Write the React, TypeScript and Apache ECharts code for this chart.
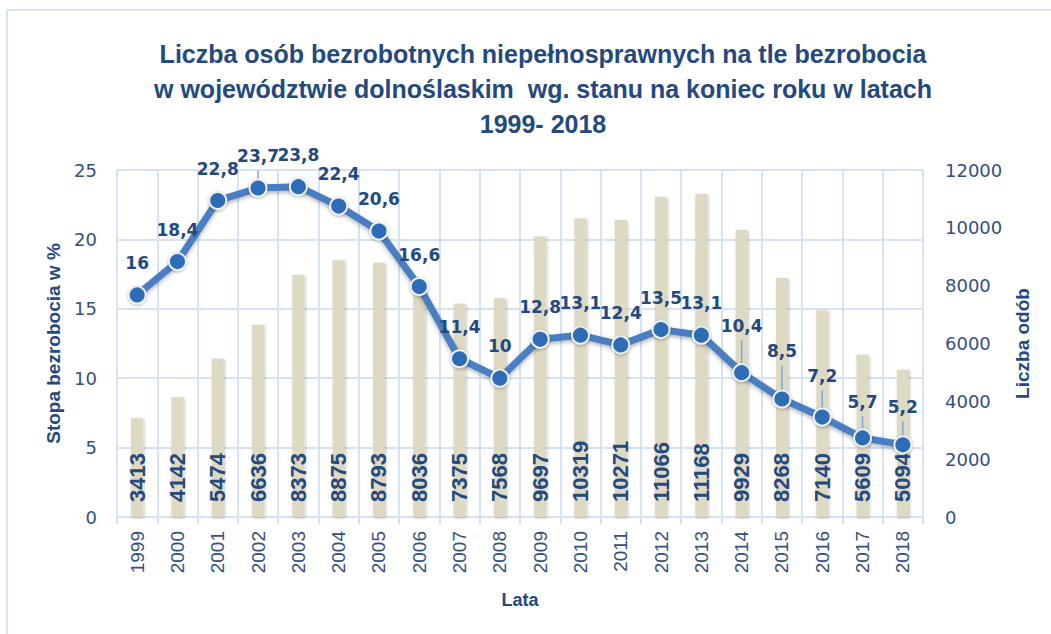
import React, { useEffect, useRef } from "react";
import * as echarts from "echarts";

const years = ["1999","2000","2001","2002","2003","2004","2005","2006","2007","2008","2009","2010","2011","2012","2013","2014","2015","2016","2017","2018"];
const rate = [16, 18.4, 22.8, 23.7, 23.8, 22.4, 20.6, 16.6, 11.4, 10, 12.8, 13.1, 12.4, 13.5, 13.1, 10.4, 8.5, 7.2, 5.7, 5.2];
const persons = [3413, 4142, 5474, 6636, 8373, 8875, 8793, 8036, 7375, 7568, 9697, 10319, 10271, 11066, 11168, 9929, 8268, 7140, 5609, 5094];
// label distance above the point; larger ones carry a leader line
const labelDist = [14, 14, 14, 14, 14, 14, 14, 14, 14, 14, 14, 14, 14, 14, 14, 29, 30, 23, 18, 20];
const withLeader = [false, false, false, true, false, false, false, false, false, false, false, false, false, false, false, true, true, true, true, true];

const leftTicks = [0, 25, 5];
const rightTicks = [0, 12000, 2000];

const titleText = "Liczba osób bezrobotnych niepełnosprawnych na tle bezrobocia\nw województwie dolnoślaskim  wg. stanu na koniec roku w latach\n1999- 2018";

const DARK = "#23497F";
const TICK = "#34507F";
const GRID = "#D6E3F5";

export default function App() {
  const ref = useRef<HTMLDivElement>(null);
  useEffect(() => {
    if (!ref.current) return;
    const chart = echarts.init(ref.current, undefined, { renderer: "svg" });
    const fmt = (v: number) => String(v).replace(".", ",");
    const leaderData = rate.map((v, i) => [i, v, labelDist[i]]).filter((_, i) => withLeader[i]);
    chart.setOption({
      animation: false,
      backgroundColor: "#ffffff",
      title: {
        text: titleText,
        left: 538,
        top: 31,
        textAlign: "center",
        textStyle: {
          fontFamily: "Liberation Sans",
          fontSize: 25,
          fontWeight: "bold",
          color: DARK,
          lineHeight: 35,
        },
      },
      graphic: [
        {
          type: "rect",
          shape: { x: 7, y: 10, width: 1080, height: 660 },
          style: { fill: "none", stroke: GRID, lineWidth: 2 },
          silent: true,
          z: -10,
        },
      ],
      grid: { left: 117, right: 128, top: 170, bottom: 117, containLabel: false },
      xAxis: {
        type: "category",
        data: years,
        name: "Lata",
        nameLocation: "middle",
        nameGap: 74,
        nameTextStyle: { fontFamily: "Liberation Sans", fontSize: 18, fontWeight: "bold", color: DARK },
        axisLine: { lineStyle: { color: GRID, width: 2 } },
        axisTick: { show: true, length: 7, lineStyle: { color: GRID, width: 2 } },
        splitLine: { show: true, lineStyle: { color: GRID, width: 2 } },
        axisLabel: {
          rotate: 90,
          margin: 14,
          fontFamily: "Liberation Sans",
          fontSize: 19,
          color: TICK,
        },
      },
      yAxis: [
        {
          type: "value",
          min: leftTicks[0],
          max: leftTicks[1],
          interval: leftTicks[2],
          position: "left",
          name: "Stopa bezrobocia w %",
          nameLocation: "middle",
          nameGap: 52,
          nameRotate: 90,
          nameTextStyle: { fontFamily: "Liberation Sans", fontSize: 19, fontWeight: "bold", color: DARK },
          axisLine: { show: false },
          axisTick: { show: false },
          splitLine: { show: true, lineStyle: { color: GRID, width: 2 } },
          axisLabel: { margin: 20, fontFamily: "DejaVu Sans", fontSize: 18, color: TICK },
        },
        {
          type: "value",
          min: rightTicks[0],
          max: rightTicks[1],
          interval: rightTicks[2],
          position: "right",
          name: "Liczba odób",
          nameLocation: "middle",
          nameGap: 82,
          nameRotate: 90,
          nameTextStyle: { fontFamily: "Liberation Sans", fontSize: 19, fontWeight: "bold", color: DARK },
          axisLine: { show: false },
          axisTick: { show: false },
          splitLine: { show: false },
          axisLabel: {
            margin: 22,
            fontFamily: "DejaVu Sans",
            fontSize: 18,
            color: TICK,
            formatter: (v: number) => String(v),
          },
        },
      ],
      series: [
        {
          type: "bar",
          yAxisIndex: 1,
          data: persons,
          barWidth: 12,
          itemStyle: {
            color: "#DDD9C3",
            shadowColor: "rgba(0,0,0,0.25)",
            shadowBlur: 3,
            shadowOffsetX: 1,
            shadowOffsetY: 1,
          },
          label: {
            show: true,
            position: "insideBottom",
            rotate: 90,
            align: "left",
            verticalAlign: "middle",
            distance: 15,
            fontFamily: "Liberation Sans",
            fontSize: 22,
            fontWeight: "bold",
            color: DARK,
          },
          z: 2,
        },
        {
          type: "custom",
          yAxisIndex: 0,
          data: leaderData,
          silent: true,
          z: 4,
          renderItem: (params: any, api: any) => {
            const p = api.coord([api.value(0), api.value(1)]);
            const d = api.value(2);
            return {
              type: "line",
              shape: { x1: p[0], y1: p[1] - 8.5 - d + 5, x2: p[0], y2: p[1] - 5 },
              style: { stroke: "#7FA6DA", lineWidth: 1.5 },
            };
          },
        },
        {
          type: "line",
          yAxisIndex: 0,
          data: rate.map((v, i) => ({
            value: v,
            label: { distance: labelDist[i] },
          })),
          symbol: "circle",
          symbolSize: 17,
          lineStyle: {
            color: "#4A7EC2",
            width: 7,
            shadowColor: "rgba(0,0,0,0.3)",
            shadowBlur: 4,
            shadowOffsetY: 2,
          },
          itemStyle: {
            color: "#2E6DB6",
            borderColor: "#EEEEEE",
            borderWidth: 2,
            shadowColor: "rgba(0,0,0,0.3)",
            shadowBlur: 3,
            shadowOffsetY: 1,
          },
          label: {
            show: true,
            position: "top",
            fontFamily: "DejaVu Sans",
            fontSize: 17,
            fontWeight: "bold",
            color: DARK,
            formatter: (p: any) => fmt(p.value),
          },
          z: 5,
        },
      ],
    });
    return () => chart.dispose();
  }, []);
  return <div ref={ref} style={{ position: "fixed", left: 0, top: 0, width: 1051, height: 634 }} />;
}
